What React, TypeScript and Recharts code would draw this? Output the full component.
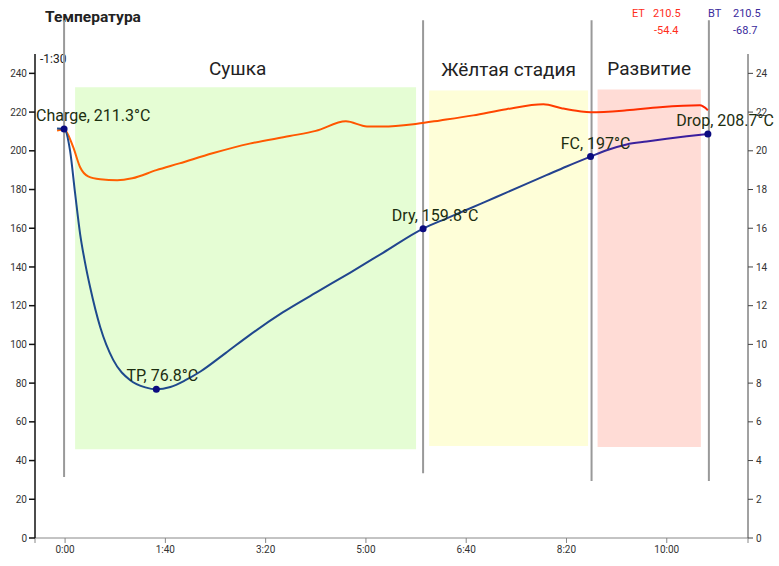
import React from 'react';
import {
    ComposedChart,
    Line,
    XAxis,
    YAxis,
    ReferenceArea,
    ReferenceLine,
    ReferenceDot
} from 'recharts';

// bean temperature (BT), seconds from charge
const btTimes = [-8, -1, 5, 10, 15, 20, 25, 35, 48, 65, 80, 91, 105, 120, 135, 160, 184, 217, 251, 284, 317, 357, 380, 400, 420, 440, 460, 480, 500, 524, 540, 560, 580, 600, 620, 641];
const btValues = [211.5, 211.3, 200, 178, 157, 142, 129.5, 109, 92, 81.5, 77.8, 76.8, 78, 81.5, 86, 95.5, 104.8, 116.5, 127, 137, 147.3, 159.8, 165, 169.4, 173.9, 178.4, 182.9, 187.4, 191.9, 197, 200.3, 203.3, 204.8, 206.2, 207.5, 208.7];

// environment temperature (ET)
const etTimes = [-8, -1, 8, 15, 23, 35, 52, 67, 91, 114, 147, 184, 224, 250, 280, 301, 317, 351, 374, 407, 440, 477, 495, 513, 524, 560, 593, 633, 641];
const etValues = [210.5, 211, 202, 191.5, 186.8, 185.3, 184.8, 185.8, 190, 193.5, 198.7, 203.7, 207.6, 210.3, 215.2, 212.6, 212.5, 214, 215.7, 218.3, 221.5, 224, 222, 220.4, 219.9, 220.9, 222.5, 223.5, 221];

// roast events
const eventNames = ['Charge', 'TP', 'Dry', 'FC', 'Drop'];
const eventTimes = [-1, 91, 357, 524, 641];
const eventTemps = [211.3, 76.8, 159.8, 197, 208.7];

// event marker lines
const markerTimes = [-1, 357, 525, 642];
const markerBottoms = [31.5, 33.5, 29.4, 29.4];
const markerTop = 267.4;

// roast phases
const phaseNames = ['Сушка', 'Жёлтая стадия', 'Развитие'];
const phaseStarts = [10, 363, 531];
const phaseEnds = [350, 521.5, 634];
const phaseTops = [232.8, 231.2, 231.7];
const phaseBottoms = [45.9, 47.5, 47];
const phaseColors = ['#e5fdd4', '#fefed8', '#ffdcd6'];

const xTicks = [-30, 0, 100, 200, 300, 400, 500, 600, 681];
const yTicks = [0, 20, 40, 60, 80, 100, 120, 140, 160, 180, 200, 220, 240];
const y2Ticks = [0, 2, 4, 6, 8, 10, 12, 14, 16, 18, 20, 22, 24];

const btData = btTimes.map((t, i) => ({ t, v: btValues[i] }));
const etData = etTimes.map((t, i) => ({ t, v: etValues[i] }));

const font = 'Roboto, "Noto Sans", sans-serif';

function fmtTime(t: number) {
    if (t < 0 || t > 660) return '';
    const m = Math.floor(t / 60);
    const s = t % 60;
    return `${m}:${String(s).padStart(2, '0')}`;
}

// label placement per event (text offset from the dot)
const labelPlace: Record<string, { anchor: string; dx: number }> = {
    Charge: { anchor: 'start', dx: -28 },
    TP: { anchor: 'middle', dx: 6 },
    Dry: { anchor: 'middle', dx: 12 },
    FC: { anchor: 'middle', dx: 5 },
    Drop: { anchor: 'end', dx: 66 }
};

export default function App() {
    return (
        <div style={{ position: 'absolute', left: 0, top: 0, width: 779, height: 566, fontFamily: font }}>
            <svg width={0} height={0} style={{ position: 'absolute' }}>
                <defs>
                    <linearGradient id="btGrad" x1="0" y1="0" x2="1" y2="0">
                        <stop offset="0%" stopColor="#1d4b8c" />
                        <stop offset="78%" stopColor="#24428f" />
                        <stop offset="86%" stopColor="#3a219c" />
                        <stop offset="100%" stopColor="#3b1d9f" />
                    </linearGradient>
                    <linearGradient id="etGrad" x1="0" y1="0" x2="1" y2="0">
                        <stop offset="0%" stopColor="#ff6200" />
                        <stop offset="55%" stopColor="#ff5200" />
                        <stop offset="100%" stopColor="#ff2400" />
                    </linearGradient>
                </defs>
            </svg>

            <div style={{ position: 'absolute', left: 45, top: 8, fontSize: 15.5, fontWeight: 700, color: '#222' }}>
                Температура
            </div>
            <div style={{ position: 'absolute', left: 40, top: 52, fontSize: 12, color: '#222' }}>-1:30</div>
            <div style={{ position: 'absolute', left: 632, top: 7, fontSize: 11, color: '#ff2d1a' }}>ET</div>
            <div style={{ position: 'absolute', left: 653, top: 7, fontSize: 11, color: '#ff2d1a' }}>210.5</div>
            <div style={{ position: 'absolute', left: 654, top: 24, fontSize: 11, color: '#ff2d1a' }}>-54.4</div>
            <div style={{ position: 'absolute', left: 708, top: 7, fontSize: 11, color: '#3a2a9c' }}>BT</div>
            <div style={{ position: 'absolute', left: 733, top: 7, fontSize: 11, color: '#3a2a9c' }}>210.5</div>
            <div style={{ position: 'absolute', left: 733, top: 24, fontSize: 11, color: '#3a2a9c' }}>-68.7</div>

            <ComposedChart
                width={779}
                height={566}
                margin={{ top: 54, right: 0, left: 0, bottom: 0 }}
                style={{ position: 'absolute', left: 0, top: 0 }}
            >
                <XAxis
                    dataKey="t"
                    type="number"
                    domain={[-30, 681]}
                    ticks={xTicks}
                    tickFormatter={fmtTime}
                    allowDataOverflow
                    height={28}
                    stroke="#888"
                    tickSize={5}
                    tickMargin={3}
                    tick={{ fontSize: 10, fill: '#333', fontFamily: font }}
                />
                <YAxis
                    yAxisId="left"
                    domain={[0, 250]}
                    ticks={yTicks}
                    width={35}
                    allowDataOverflow
                    stroke="#111"
                    strokeWidth={1.5}
                    tickSize={6}
                    tickMargin={2}
                    tick={{ fontSize: 10, fill: '#333', fontFamily: font }}
                />
                <YAxis
                    yAxisId="right"
                    orientation="right"
                    domain={[0, 25]}
                    ticks={y2Ticks}
                    width={31}
                    allowDataOverflow
                    stroke="#444"
                    tickSize={5}
                    tickMargin={3}
                    tick={{ fontSize: 10, fill: '#333', fontFamily: font }}
                />

                {phaseNames.map((name, i) => (
                    <ReferenceArea
                        key={name}
                        yAxisId="left"
                        x1={phaseStarts[i]}
                        x2={phaseEnds[i]}
                        y1={phaseBottoms[i]}
                        y2={phaseTops[i]}
                        fill={phaseColors[i]}
                        fillOpacity={1}
                        stroke="none"
                        ifOverflow="visible"
                        label={{ value: name, position: 'top', offset: i === 0 ? 12 : 14, dx: i === 0 ? -8 : 0, fontSize: 19, fill: '#222', fontFamily: font }}
                    />
                ))}

                {markerTimes.map((t, i) => (
                    <ReferenceLine
                        key={t}
                        yAxisId="left"
                        segment={[{ x: t, y: markerTop }, { x: t, y: markerBottoms[i] }]}
                        ifOverflow="visible"
                        stroke="#999"
                        strokeWidth={2}
                    />
                ))}

                {/* keeps the secondary axis alive; not drawn */}
                <Line
                    yAxisId="right"
                    data={btData}
                    dataKey="v"
                    stroke="none"
                    dot={false}
                    activeDot={false}
                    isAnimationActive={false}
                />
                <Line
                    yAxisId="left"
                    data={etData}
                    dataKey="v"
                    type="monotone"
                    stroke="url(#etGrad)"
                    strokeWidth={2}
                    dot={false}
                    activeDot={false}
                    isAnimationActive={false}
                />
                <Line
                    yAxisId="left"
                    data={btData}
                    dataKey="v"
                    type="monotone"
                    stroke="url(#btGrad)"
                    strokeWidth={2}
                    dot={false}
                    activeDot={false}
                    isAnimationActive={false}
                />

                {eventNames.map((name, i) => (
                    <ReferenceDot
                        key={name}
                        yAxisId="left"
                        x={eventTimes[i]}
                        y={eventTemps[i]}
                        r={3.5}
                        ifOverflow="visible"
                        shape={(p: any) => (
                            <g>
                                <circle cx={p.cx} cy={p.cy} r={3.5} fill="#0b0b80" />
                                <text
                                    x={p.cx + labelPlace[name].dx}
                                    y={p.cy - 8}
                                    textAnchor={labelPlace[name].anchor as any}
                                    fontSize={16}
                                    fontFamily={font}
                                    fill="#1c2e10"
                                >
                                    {`${name}, ${eventTemps[i]}°C`}
                                </text>
                            </g>
                        )}
                    />
                ))}
            </ComposedChart>
        </div>
    );
}
